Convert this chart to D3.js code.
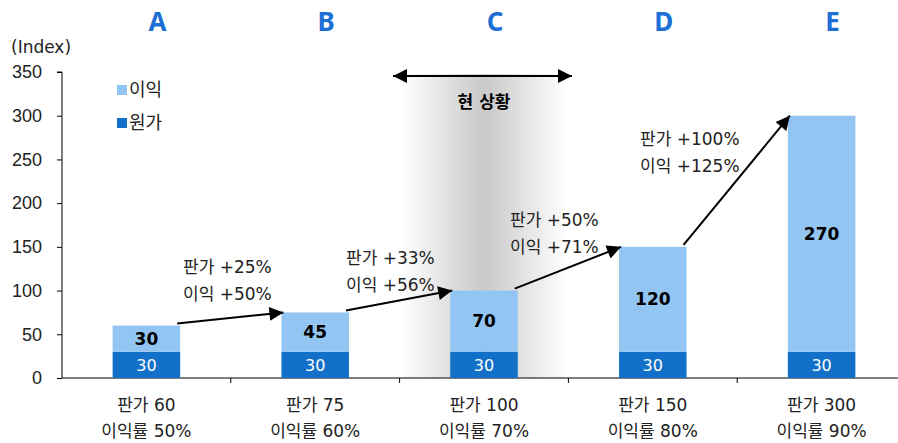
<!DOCTYPE html>
<html>
<head>
<meta charset="utf-8">
<script src="https://cdn.jsdelivr.net/npm/d3@7/dist/d3.min.js"></script>
<style>
  body { margin: 0; background: #fff; }
  svg { font-family: "DejaVu Sans", "Noto Sans CJK KR", sans-serif; }
</style>
</head>
<body>
<svg id="chart" width="898" height="443"></svg>
<script>
// chart data
const categories = ["A", "B", "C", "D", "E"];
const cost = [30, 30, 30, 30, 30];
const profit = [30, 45, 70, 120, 270];
const priceLabels = ["판가 60", "판가 75", "판가 100", "판가 150", "판가 300"];
const marginLabels = ["이익률 50%", "이익률 60%", "이익률 70%", "이익률 80%", "이익률 90%"];
const changeLabels = [
  ["판가 +25%", "이익 +50%"],
  ["판가 +33%", "이익 +56%"],
  ["판가 +50%", "이익 +71%"],
  ["판가 +100%", "이익 +125%"]
];
const yTicks = [0, 50, 100, 150, 200, 250, 300, 350];
const currentIdx = 2;

const darkBlue = "#1270c8";
const lightBlue = "#93c5f3";
const letterBlue = "#1b6fd5";

const svg = d3.select("#chart");

const x = d3.scaleBand().domain(categories).range([62, 906]).padding(0);
const y = d3.scaleLinear().domain([0, 350]).range([378, 72]);
const bw = x.bandwidth();
const barW = bw * 0.4;
const barX = c => x(c) + (bw - barW) / 2;

// grey gradient behind current state
const defs = svg.append("defs");
const grad = defs.append("linearGradient").attr("id", "grey").attr("x1", 0).attr("x2", 1);
grad.append("stop").attr("offset", "0%").attr("stop-color", "#ffffff");
grad.append("stop").attr("offset", "50%").attr("stop-color", "#c9c9c9");
grad.append("stop").attr("offset", "100%").attr("stop-color", "#ffffff");

const cx = x(categories[currentIdx]) + bw / 2;
svg.append("rect")
  .attr("x", cx - 84).attr("y", 74)
  .attr("width", 168).attr("height", y(0) - 74)
  .attr("fill", "url(#grey)");

// arrow head
defs.append("marker")
  .attr("id", "head")
  .attr("viewBox", "0 0 10 10")
  .attr("refX", 10).attr("refY", 5)
  .attr("markerWidth", 8).attr("markerHeight", 7)
  .attr("markerUnits", "strokeWidth")
  .attr("orient", "auto-start-reverse")
  .append("path").attr("d", "M0,0 L10,5 L0,10 z").attr("fill", "#000");

// y axis
const yAxis = svg.append("g")
  .attr("transform", "translate(62,0)")
  .call(d3.axisLeft(y).tickValues(yTicks).tickSize(5).tickPadding(15));
yAxis.select(".domain").attr("stroke", "#000").attr("d", "M-5," + y(350) + "H0V" + y(0));
yAxis.selectAll("text").attr("font-size", 18).attr("font-family", null).attr("fill", "#222");

svg.append("text")
  .attr("x", 11).attr("y", 53)
  .attr("font-size", 17).attr("fill", "#222")
  .text("(Index)");

// x axis baseline with ticks between categories
const xAxis = svg.append("g")
  .attr("transform", "translate(0," + y(0) + ")");
xAxis.append("line")
  .attr("x1", 62).attr("x2", 898)
  .attr("stroke", "#000");
xAxis.selectAll(".sep")
  .data(categories.slice(1))
  .join("line")
  .attr("x1", d => x(d)).attr("x2", d => x(d))
  .attr("y1", 0).attr("y2", 5)
  .attr("stroke", "#000");

// bars
const bars = svg.append("g");
bars.selectAll(".cost")
  .data(categories)
  .join("rect")
  .attr("x", d => barX(d))
  .attr("y", (d, i) => y(cost[i]))
  .attr("width", barW)
  .attr("height", (d, i) => y(0) - y(cost[i]))
  .attr("fill", darkBlue);

bars.selectAll(".profit")
  .data(categories)
  .join("rect")
  .attr("x", d => barX(d))
  .attr("y", (d, i) => y(cost[i] + profit[i]))
  .attr("width", barW)
  .attr("height", (d, i) => y(cost[i]) - y(cost[i] + profit[i]))
  .attr("fill", lightBlue);

// value labels
bars.selectAll(".costLbl")
  .data(categories)
  .join("text")
  .attr("x", d => x(d) + bw / 2)
  .attr("y", (d, i) => (y(0) + y(cost[i])) / 2)
  .attr("dy", "0.36em")
  .attr("text-anchor", "middle")
  .attr("font-size", 16)
  .attr("fill", "#fff")
  .text((d, i) => cost[i]);

bars.selectAll(".profitLbl")
  .data(categories)
  .join("text")
  .attr("x", d => x(d) + bw / 2)
  .attr("y", (d, i) => (y(cost[i]) + y(cost[i] + profit[i])) / 2)
  .attr("dy", "0.36em")
  .attr("text-anchor", "middle")
  .attr("font-size", 17)
  .attr("font-weight", "bold")
  .attr("fill", "#000")
  .text((d, i) => profit[i]);

// category letters on top
svg.selectAll(".letter")
  .data(categories)
  .join("text")
  .attr("x", d => x(d) + bw / 2 + 11)
  .attr("y", 31)
  .attr("text-anchor", "middle")
  .attr("font-family", "'Noto Sans', sans-serif")
  .attr("font-size", 26)
  .attr("font-weight", "bold")
  .attr("fill", letterBlue)
  .text(d => d);

// x labels
svg.selectAll(".xl1")
  .data(categories)
  .join("text")
  .attr("x", d => x(d) + bw / 2)
  .attr("y", 411)
  .attr("text-anchor", "middle")
  .attr("font-size", 17)
  .attr("fill", "#222")
  .text((d, i) => priceLabels[i]);

svg.selectAll(".xl2")
  .data(categories)
  .join("text")
  .attr("x", d => x(d) + bw / 2)
  .attr("y", 437)
  .attr("text-anchor", "middle")
  .attr("font-size", 17)
  .attr("fill", "#222")
  .text((d, i) => marginLabels[i]);

// legend
const legend = svg.append("g").attr("transform", "translate(117,0)");
[["이익", lightBlue, 90], ["원가", darkBlue, 123]].forEach(([t, c, ly]) => {
  legend.append("rect").attr("x", 0).attr("y", ly - 5).attr("width", 10).attr("height", 10).attr("fill", c);
  legend.append("text").attr("x", 12).attr("y", ly).attr("dy", "0.36em")
    .attr("font-size", 18).attr("fill", "#222").text(t);
});

// growth arrows between bars
const arrows = svg.append("g");
categories.slice(0, -1).forEach((c, i) => {
  const n = categories[i + 1];
  arrows.append("line")
    .attr("x1", barX(c) + barW - 3)
    .attr("y1", y(cost[i] + profit[i]) - 2)
    .attr("x2", barX(n) + 2)
    .attr("y2", y(cost[i + 1] + profit[i + 1]))
    .attr("stroke", "#000")
    .attr("stroke-width", 2)
    .attr("marker-end", "url(#head)");
});

// change annotations
const annoPos = [[183, 267], [346, 258], [510, 220], [640, 139]];
changeLabels.forEach((lines, i) => {
  lines.forEach((t, j) => {
    svg.append("text")
      .attr("x", annoPos[i][0])
      .attr("y", annoPos[i][1] + j * 27)
      .attr("dy", "0.36em")
      .attr("font-size", 17)
      .attr("fill", "#222")
      .text(t);
  });
});

// current state double arrow
svg.append("line")
  .attr("x1", cx - 91).attr("x2", cx + 88)
  .attr("y1", 76).attr("y2", 76)
  .attr("stroke", "#000")
  .attr("stroke-width", 2)
  .attr("marker-start", "url(#head)")
  .attr("marker-end", "url(#head)");

svg.append("text")
  .attr("x", cx).attr("y", 102)
  .attr("dy", "0.36em")
  .attr("text-anchor", "middle")
  .attr("font-size", 17)
  .attr("font-weight", "bold")
  .attr("fill", "#000")
  .text("현 상황");
</script>
</body>
</html>
